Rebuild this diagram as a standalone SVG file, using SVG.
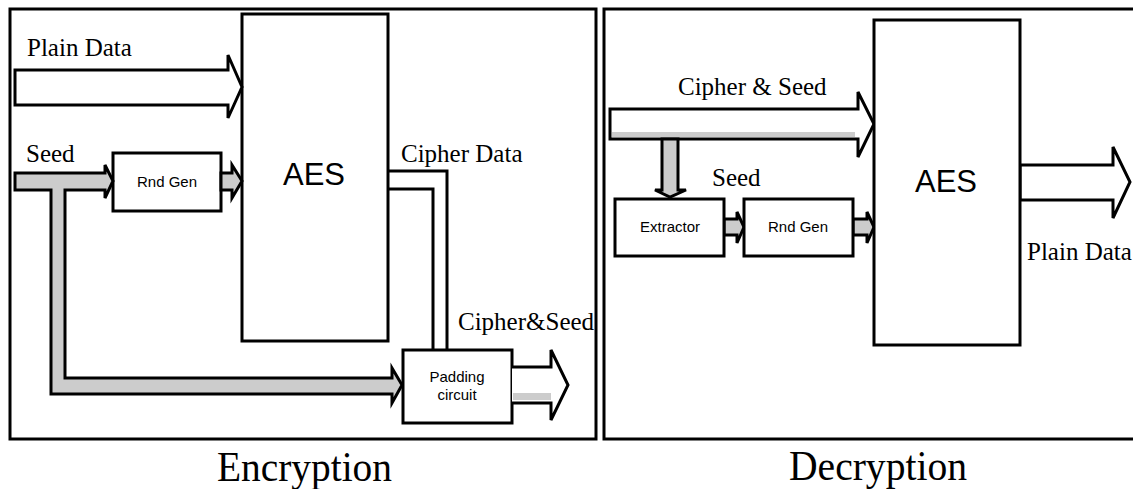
<svg xmlns="http://www.w3.org/2000/svg" width="1133" height="489" viewBox="0 0 1133 489">
  <style>
    .frame { fill: none; stroke: #000; stroke-width: 3; }
    .box { fill: #fff; stroke: #000; stroke-width: 3; }
    .bus { fill: #fff; stroke: #000; stroke-width: 3; stroke-linejoin: miter; }
    .gbus { fill: #cccccc; stroke: #000; stroke-width: 3; stroke-linejoin: miter; }
    .wire { fill: none; stroke: #000; stroke-width: 3; }
    .strip { fill: #cccccc; stroke: none; }
    .lbl { font-family: "Liberation Serif", "Times New Roman", serif; font-size: 25px; fill: #000; }
    .title { font-family: "Liberation Serif", "Times New Roman", serif; font-size: 42px; fill: #000; }
    .blk { font-family: "Liberation Sans", Arial, sans-serif; font-size: 15px; fill: #000; text-anchor: middle; }
    .aes { font-family: "Liberation Sans", Arial, sans-serif; font-size: 31px; fill: #000; text-anchor: middle; }
  </style>

  <!-- panel frames -->
  <rect class="frame" x="10" y="9" width="586" height="430"/>
  <rect class="frame" x="604" y="9" width="540" height="430"/>

  <!-- ===== Encryption side ===== -->
  <g id="enc-aes">
    <rect class="box" x="242" y="14" width="146" height="327"/>
    <text class="aes" x="314" y="185">AES</text>
  </g>
  <g id="enc-rndgen">
    <rect class="box" x="113" y="153" width="108" height="58"/>
    <text class="blk" x="167" y="187">Rnd Gen</text>
  </g>
  <g id="enc-padding">
    <rect class="box" x="403" y="350" width="109" height="73"/>
    <text class="blk" x="457" y="382">Padding</text>
    <text class="blk" x="457" y="400">circuit</text>
  </g>

  <g id="connectors">
    <!-- Plain Data bus into encryption AES -->
    <path class="bus" d="M15,70 H228 V55 L242,87 L228,118 V105 H15 Z"/>
    <!-- Seed bus: into Rnd Gen and branching down to the padding circuit -->
    <path class="gbus" d="M15,173 H105 V165 L113,181 L105,198 V190 H65 V378 H392 V368 L402,385 L392,403 V394 H51 V190 H15 Z"/>
    <!-- Rnd Gen -> AES -->
    <path class="gbus" d="M221,173 H232 V165 L242,181 L232,198 V190 H221 Z"/>
    <!-- Cipher Data wires from AES to padding circuit -->
    <path class="wire" d="M388,171 H447 V350"/>
    <path class="wire" d="M388,189 H433 V350"/>
    <!-- Cipher & Seed output bus -->
    <path class="bus" d="M512,367 H551 V350 L568,385 L551,420 V403 H512"/>
    <rect class="strip" x="513" y="393" width="38" height="7"/>

    <!-- Cipher & Seed bus into decryption AES -->
    <path class="bus" d="M610,109 H858 V92 L874,124 L858,157 V139 H610 Z"/>
    <rect class="strip" x="612" y="132" width="243" height="5"/>
    <!-- Seed tap down to extractor -->
    <path class="gbus" d="M662,139 H678 V190 H686 L670,197 L655,190 H662 Z"/>
    <!-- Extractor -> Rnd Gen -->
    <path class="gbus" d="M724,219 H737 V212 L744,227 L737,243 V235 H724 Z"/>
    <!-- Rnd Gen -> AES -->
    <path class="gbus" d="M853,219 H867 V212 L874,227 L867,243 V235 H853 Z"/>
    <!-- Plain Data output bus -->
    <path class="bus" d="M1020,165 H1113 V147 L1130,182 L1113,218 V200 H1020 Z"/>
  </g>

  <!-- ===== Decryption side ===== -->
  <g id="dec-extractor">
    <rect class="box" x="615" y="199" width="109" height="57"/>
    <text class="blk" x="670" y="232">Extractor</text>
  </g>
  <g id="dec-rndgen">
    <rect class="box" x="744" y="199" width="109" height="57"/>
    <text class="blk" x="798" y="232">Rnd Gen</text>
  </g>
  <g id="dec-aes">
    <rect class="box" x="874" y="20" width="146" height="325"/>
    <text class="aes" x="946" y="192">AES</text>
  </g>

  <!-- labels -->
  <text class="lbl" x="27" y="56">Plain Data</text>
  <text class="lbl" x="26" y="162">Seed</text>
  <text class="lbl" x="401" y="162">Cipher Data</text>
  <text class="lbl" x="458" y="330">Cipher&amp;Seed</text>
  <text class="lbl" x="678" y="95">Cipher &amp; Seed</text>
  <text class="lbl" x="712" y="186">Seed</text>
  <text class="lbl" x="1027" y="260">Plain Data</text>

  <text class="title" x="217" y="481" textLength="175" lengthAdjust="spacingAndGlyphs">Encryption</text>
  <text class="title" x="789" y="480" textLength="178" lengthAdjust="spacingAndGlyphs">Decryption</text>
</svg>
